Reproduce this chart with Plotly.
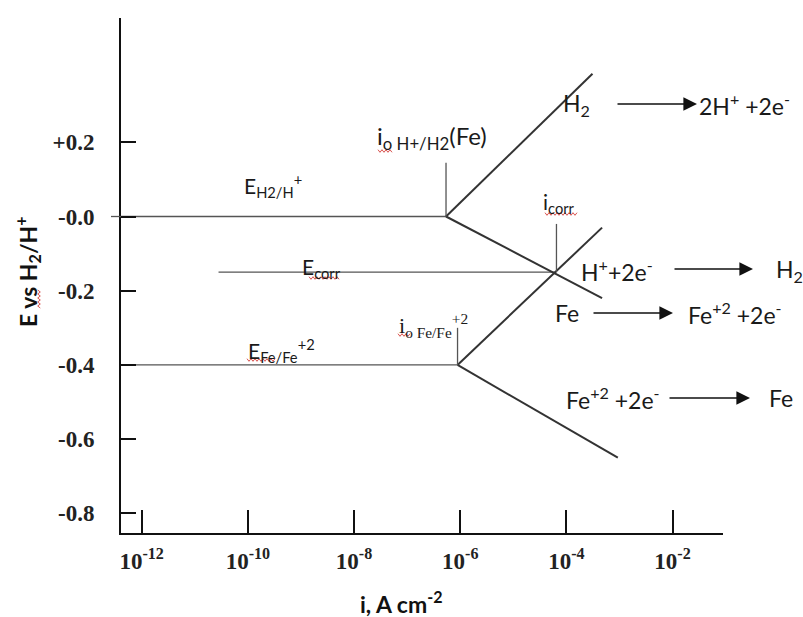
import plotly.graph_objects as go

# Evans diagram for iron corroding in acid: potentials (V vs H2/H+) and
# current densities (A cm^-2) at the ends of each branch
E_H = 0.0            # H2/H+ equilibrium potential
E_FE = -0.40         # Fe/Fe+2 equilibrium potential
E_CORR = -0.15       # mixed (corrosion) potential
I0_H = 5.4e-7        # exchange current density of H+/H2 on Fe
I0_FE = 8.9e-7       # exchange current density of Fe/Fe+2
I_CORR = 6.5e-5      # corrosion current density
I_LEFT = 4.0e-13     # start of the equilibrium lines
I_ECORR_START = 2.8e-11

h_anodic_i = [I0_H, 3.1e-4]
h_anodic_E = [E_H, 0.385]
h_cathodic_i = [I0_H, 4.7e-4]
h_cathodic_E = [E_H, -0.22]
fe_anodic_i = [I0_FE, 4.7e-4]
fe_anodic_E = [E_FE, -0.03]
fe_cathodic_i = [I0_FE, 9.3e-4]
fe_cathodic_E = [E_FE, -0.65]

# tops of the short vertical markers
i0_h_marker_top = 0.145
icorr_marker_top = -0.02
i0_fe_marker_top = -0.30

x_tickvals = [1e-12, 1e-10, 1e-8, 1e-6, 1e-4, 1e-2]
x_ticktext = ["10<sup>-12</sup>", "10<sup>-10</sup>", "10<sup>-8</sup>",
              "10<sup>-6</sup>", "10<sup>-4</sup>", "10<sup>-2</sup>"]
y_tickvals = [0.2, 0.0, -0.2, -0.4, -0.6, -0.8]
y_ticktext = ["+0.2", "-0.0", "-0.2", "-0.4", "-0.6", "-0.8"]

W, H = 803, 617
L, R, T, B = 121, 80, 18, 84
PW, PH = W - L - R, H - T - B


def px(x):
    return (x - L) / PW


def py(y):
    return (H - B - y) / PH


fig = go.Figure()

thin = dict(color="#555555", width=1.3)
thick = dict(color="#333333", width=2)

segments = [
    ([I_LEFT, I0_H], [E_H, E_H], thin),
    ([I_LEFT, I0_FE], [E_FE, E_FE], thin),
    ([I_ECORR_START, I_CORR], [E_CORR, E_CORR], thin),
    (h_anodic_i, h_anodic_E, thick),
    (h_cathodic_i, h_cathodic_E, thick),
    (fe_anodic_i, fe_anodic_E, thick),
    (fe_cathodic_i, fe_cathodic_E, thick),
    ([I0_H, I0_H], [E_H, i0_h_marker_top], thin),
    ([I_CORR, I_CORR], [E_CORR, icorr_marker_top], thin),
    ([I0_FE, I0_FE], [E_FE, i0_fe_marker_top], thin),
]
for xs, ys, ln in segments:
    fig.add_trace(go.Scatter(x=xs, y=ys, mode="lines", line=ln,
                             hoverinfo="skip", showlegend=False))

sans = "Lato, 'Noto Sans', sans-serif"
label_font = dict(family=sans, size=23, color="#1a1a1a")
annotations = []


def text(x, y, s, anchor="left", font=label_font):
    annotations.append(dict(x=px(x), y=py(y), xref="paper", yref="paper",
                            text=s, showarrow=False, xanchor=anchor,
                            yanchor="middle", font=font))


def arrow(x0, x1, y):
    annotations.append(dict(x=px(x1), y=py(y), xref="paper", yref="paper",
                            ax=x0 - x1, ay=0, text="", showarrow=True,
                            arrowhead=2, arrowsize=1.7, arrowwidth=1.6,
                            arrowcolor="#111111"))


small = dict(family=sans, size=21, color="#1a1a1a")
text(242, 185, "E<sub>H2/H</sub><sup>+</sup>", font=small)
text(375, 137, "i<sub>o H+/H2</sub>(Fe)",
     font=dict(family=sans, size=24, color="#1a1a1a"))
text(541, 203, "i<sub>corr</sub>", font=small)
text(300, 268, "E<sub>corr</sub>", font=small)
text(397, 325, "i<sub>o Fe/Fe</sub><sup>+2</sup>",
     font=dict(family="'Liberation Serif', serif", size=22, color="#1a1a1a"))
text(246, 350, "E<sub>Fe/Fe</sub><sup>+2</sup>", font=small)

text(561, 104, "H<sub>2</sub>")
arrow(616, 697, 104)
text(697, 104, "2H<sup>+</sup> +2e<sup>-</sup>")

text(579, 270, "H<sup>+</sup>+2e<sup>-</sup>")
arrow(673, 753, 269)
text(774, 270, "H<sub>2</sub>")

text(553, 313, "Fe")
arrow(592, 673, 313)
text(686, 313, "Fe<sup>+2</sup> +2e<sup>-</sup>")

text(564, 398, "Fe<sup>+2</sup> +2e<sup>-</sup>")
arrow(668, 750, 398)
text(767, 398, "Fe")

# axis titles
title_font = dict(family=sans, size=23, color="#111111", weight="bold")
annotations.append(dict(x=px(27), y=py(272), xref="paper", yref="paper",
                        text="E vs H<sub>2</sub>/H<sup>+</sup>", textangle=-90,
                        showarrow=False, xanchor="center", yanchor="middle",
                        font=title_font))
annotations.append(dict(x=px(401), y=py(602), xref="paper", yref="paper",
                        text="i, A cm<sup>-2</sup>", showarrow=False,
                        xanchor="center", yanchor="middle", font=title_font))

shapes = [dict(type="line", xref="paper", yref="y", x0=px(111), x1=0,
               y0=E_H, y1=E_H, line=thin)]


def squiggle(x0, x1, y, vertical=False, step=2.0, amp=1.3):
    """Small red wavy underline used as a proofing mark under words."""
    pts = []
    n = int(abs(x1 - x0) / step)
    for k in range(n + 1):
        a = x0 + k * step
        b = y + (amp if k % 2 else -amp)
        pts.append((b, a) if vertical else (a, b))
    path = "M " + " L ".join(f"{px(u):.5f},{py(v):.5f}" for u, v in pts)
    shapes.append(dict(type="path", xref="paper", yref="paper", path=path,
                       line=dict(color="#d9534f", width=1)))


squiggle(378, 392, 151)
squiggle(545, 578, 214)
squiggle(309, 340, 278)
squiggle(398, 411, 335)
squiggle(247, 276, 360)
squiggle(290, 308, 39, vertical=True)

tick_font = dict(family="'Liberation Serif', 'Times New Roman', serif",
                 size=23, color="#222222", weight="bold")

fig.update_layout(
    width=W, height=H,
    margin=dict(l=L, r=R, t=T, b=B, pad=0),
    paper_bgcolor="white", plot_bgcolor="white",
    annotations=annotations, shapes=shapes,
    xaxis=dict(type="log", range=[-12.39, -1.05], showgrid=False,
               zeroline=False, showline=True, linecolor="#111111",
               linewidth=2, ticks="inside", ticklen=23, tickwidth=2,
               tickcolor="#111111", tickvals=x_tickvals,
               ticktext=x_ticktext, tickfont=tick_font,
               ticklabelstandoff=6),
    yaxis=dict(range=[-0.853, 0.535], showgrid=False, zeroline=False,
               showline=True, linecolor="#111111", linewidth=2,
               ticks="inside", ticklen=15, tickwidth=2,
               tickcolor="#111111", tickvals=y_tickvals,
               ticktext=y_ticktext, tickfont=tick_font,
               ticklabelstandoff=20),
)

fig.write_html("out.html")
